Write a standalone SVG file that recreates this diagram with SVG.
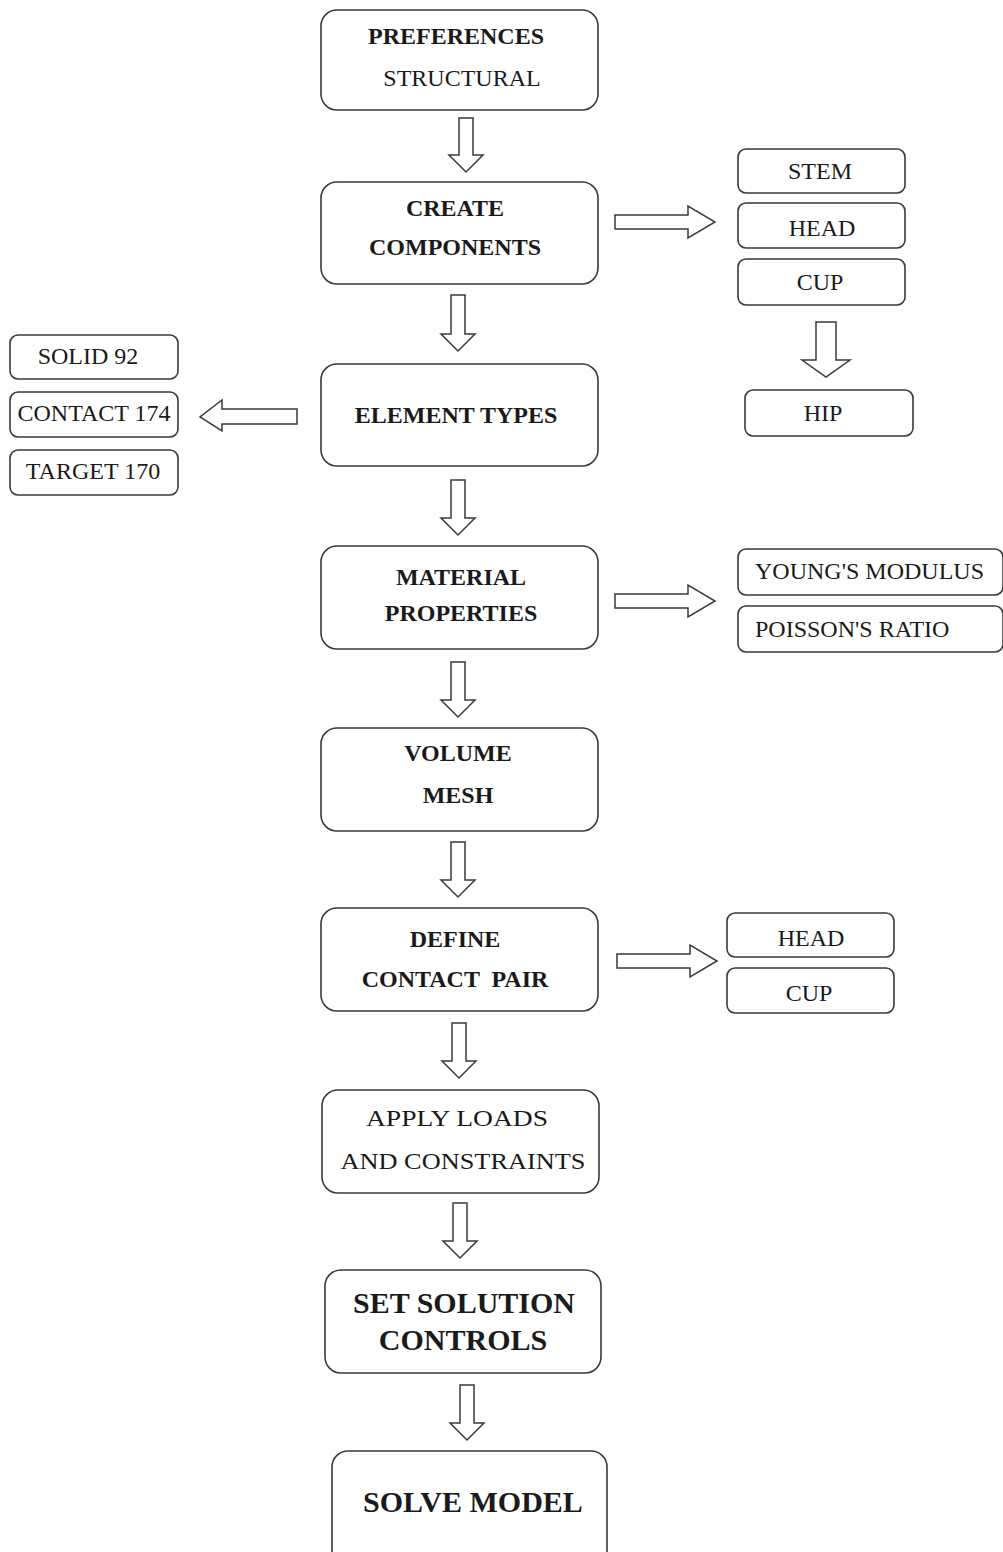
<svg xmlns="http://www.w3.org/2000/svg" width="1003" height="1552" viewBox="0 0 1003 1552">
<style>
.box{fill:#fff;stroke:#3a3a3a;stroke-width:1.6}
.arr{fill:#fff;stroke:#3a3a3a;stroke-width:1.5;stroke-linejoin:miter}
text{fill:#1a1a1a;text-anchor:middle;font-family:"Liberation Serif","Times New Roman",serif}
.b{font-weight:bold;font-size:24px}
.r{font-size:24px}
.big{font-weight:bold;font-size:30px}
.l{text-anchor:start}
</style>
<rect width="1003" height="1552" fill="#fff"/>
<g id="connectors">
<path class="arr" d="M459,118 H473 V155 H483 L466,172 L449,155 H459 Z"/>
<path class="arr" d="M451,295 H465 V334 H475 L458,351 L441,334 H451 Z"/>
<path class="arr" d="M451,480 H465 V518 H475 L458,535 L441,518 H451 Z"/>
<path class="arr" d="M451,662 H465 V700 H475 L458,717 L441,700 H451 Z"/>
<path class="arr" d="M451,842 H465 V880 H475 L458,897 L441,880 H451 Z"/>
<path class="arr" d="M452,1023 H466 V1061 H476 L459,1078 L442,1061 H452 Z"/>
<path class="arr" d="M453,1203 H467 V1241 H477 L460,1258 L443,1241 H453 Z"/>
<path class="arr" d="M460,1385 H474 V1423 H484 L467,1440 L450,1423 H460 Z"/>
<path class="arr" d="M816,322 H836 V360 H850 L826,377 L802,360 H816 Z"/>
<path class="arr" d="M615,215 H688 V206 L715,222 L688,238 V229 H615 Z"/>
<path class="arr" d="M615,594 H688 V585 L715,601 L688,617 V608 H615 Z"/>
<path class="arr" d="M617,954 H690 V945 L717,961 L690,977 V968 H617 Z"/>
<path class="arr" d="M297,409 H222 V400 L200,417 L222,431 V424 H297 Z"/>
</g>
<g id="n_preferences"><rect class="box" x="321" y="10" width="277" height="100" rx="16"/><text class="b" x="456" y="44">PREFERENCES</text><text class="r" x="462" y="86">STRUCTURAL</text></g>
<g id="n_create"><rect class="box" x="321" y="182" width="277" height="102" rx="16"/><text class="b" x="455" y="216">CREATE</text><text class="b" x="455" y="255">COMPONENTS</text></g>
<g id="n_stem"><rect class="box" x="738" y="149" width="167" height="44" rx="8"/><text class="r" x="820" y="179">STEM</text></g>
<g id="n_head1"><rect class="box" x="738" y="203" width="167" height="45" rx="8"/><text class="r" x="822" y="236">HEAD</text></g>
<g id="n_cup1"><rect class="box" x="738" y="259" width="167" height="46" rx="8"/><text class="r" x="820" y="290">CUP</text></g>
<g id="n_hip"><rect class="box" x="745" y="390" width="168" height="46" rx="8"/><text class="r" x="823" y="421">HIP</text></g>
<g id="n_element"><rect class="box" x="321" y="364" width="277" height="102" rx="16"/><text class="b" x="456" y="423">ELEMENT TYPES</text></g>
<g id="n_solid"><rect class="box" x="10" y="335" width="168" height="44" rx="8"/><text class="r" x="88" y="364">SOLID 92</text></g>
<g id="n_contact"><rect class="box" x="10" y="392" width="168" height="45" rx="8"/><text class="r" x="94" y="421">CONTACT 174</text></g>
<g id="n_target"><rect class="box" x="10" y="450" width="168" height="45" rx="8"/><text class="r" x="93" y="479">TARGET 170</text></g>
<g id="n_material"><rect class="box" x="321" y="546" width="277" height="103" rx="16"/><text class="b" x="461" y="585">MATERIAL</text><text class="b" x="461" y="621">PROPERTIES</text></g>
<g id="n_young"><rect class="box" x="738" y="549" width="265" height="46" rx="8"/><text class="r l" x="755" y="579">YOUNG'S MODULUS</text></g>
<g id="n_poisson"><rect class="box" x="738" y="606" width="265" height="46" rx="8"/><text class="r l" x="755" y="637">POISSON'S RATIO</text></g>
<g id="n_volume"><rect class="box" x="321" y="728" width="277" height="103" rx="16"/><text class="b" x="458" y="761">VOLUME</text><text class="b" x="458" y="803">MESH</text></g>
<g id="n_define"><rect class="box" x="321" y="908" width="277" height="103" rx="16"/><text class="b" x="455" y="947">DEFINE</text><text class="b" x="455" y="987" xml:space="preserve">CONTACT  PAIR</text></g>
<g id="n_head2"><rect class="box" x="727" y="913" width="167" height="44" rx="8"/><text class="r" x="811" y="946">HEAD</text></g>
<g id="n_cup2"><rect class="box" x="727" y="968" width="167" height="45" rx="8"/><text class="r" x="809" y="1001">CUP</text></g>
<g id="n_apply"><rect class="box" x="322" y="1090" width="277" height="103" rx="16"/><text class="r" x="457" y="1126" textLength="182" lengthAdjust="spacingAndGlyphs">APPLY LOADS</text><text class="r" x="463" y="1169" textLength="245" lengthAdjust="spacingAndGlyphs">AND CONSTRAINTS</text></g>
<g id="n_set"><rect class="box" x="325" y="1270" width="276" height="103" rx="16"/><text class="big" x="464" y="1313">SET SOLUTION</text><text class="big" x="463" y="1350">CONTROLS</text></g>
<g id="n_solve"><rect class="box" x="332" y="1451" width="275" height="120" rx="16"/><text class="big" x="473" y="1512">SOLVE MODEL</text></g>
</svg>
